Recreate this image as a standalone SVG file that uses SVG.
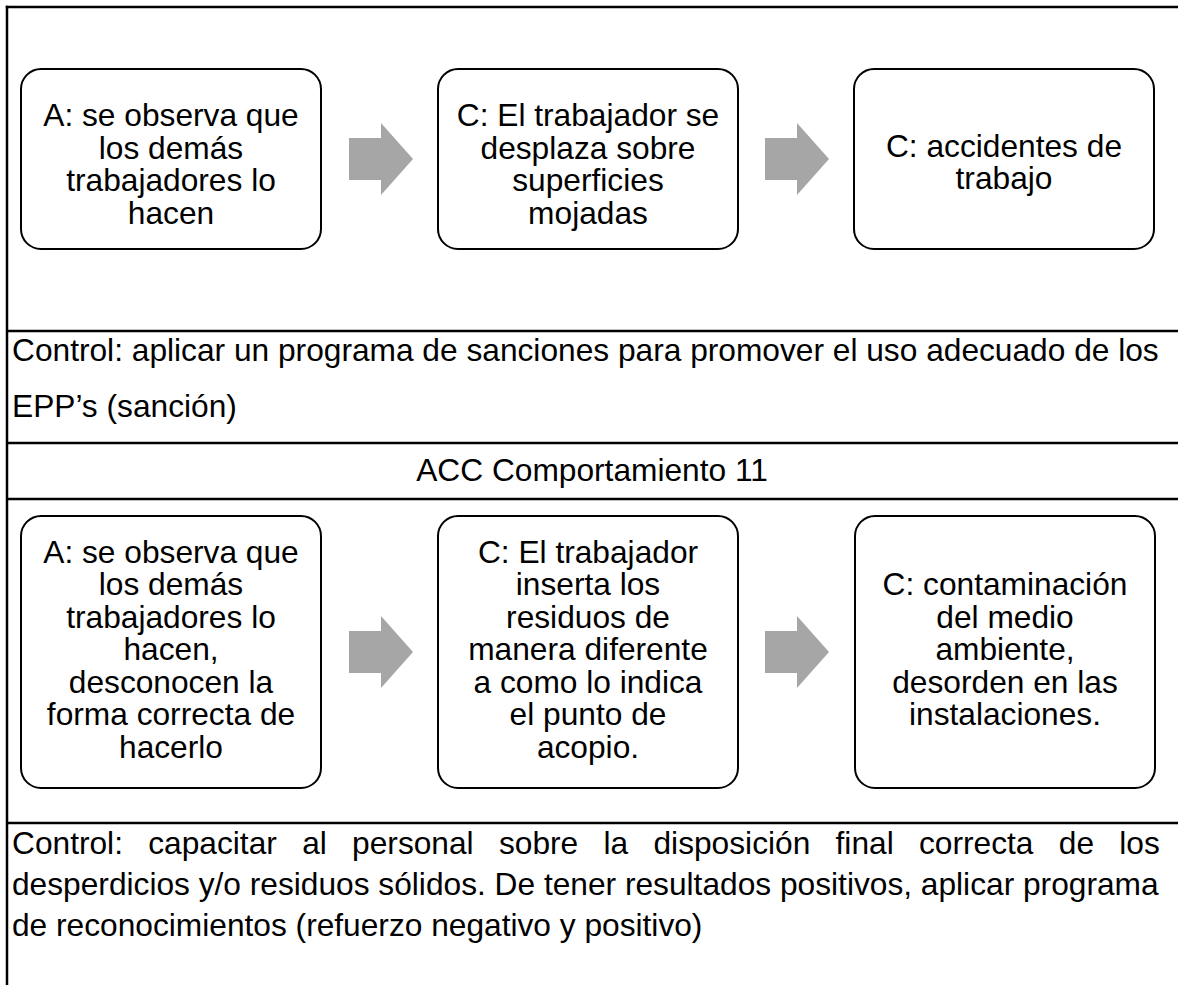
<svg xmlns="http://www.w3.org/2000/svg" width="1178" height="985" viewBox="0 0 1178 985">
<style>
.t{font-family:"Liberation Sans",Arial,sans-serif;font-size:31.7px;fill:#000}
.c{text-anchor:middle}
.box{fill:#fff;stroke:#000;stroke-width:2}
.arr{fill:#A6A6A6}
.ln{stroke:#000;stroke-width:2.5;fill:none}
</style>
<rect x="0" y="0" width="1178" height="985" fill="#fff"/>
<g id="table">
<line class="ln" x1="5.8" y1="7" x2="1178" y2="7"/>
<line class="ln" x1="7" y1="5.8" x2="7" y2="985"/>
<line class="ln" x1="7" y1="331" x2="1178" y2="331"/>
<line class="ln" x1="7" y1="443" x2="1178" y2="443"/>
<line class="ln" x1="7" y1="499" x2="1178" y2="499"/>
<line class="ln" x1="7" y1="823" x2="1178" y2="823"/>
</g>
<g id="connectors">
<polygon class="arr" points="349,138 381,138 381,123 413,159 381,195 381,180 349,180"/>
<polygon class="arr" points="765,138 797,138 797,123 829,159 797,195 797,180 765,180"/>
<polygon class="arr" points="349,631 381,631 381,616 413,652 381,688 381,673 349,673"/>
<polygon class="arr" points="765,631 797,631 797,616 829,652 797,688 797,673 765,673"/>
</g>
<g id="n1">
<rect class="box" x="21" y="69" width="300" height="180" rx="20"/>
<text class="t c"><tspan x="171" y="126">A: se observa que</tspan><tspan x="171" y="158.5">los demás</tspan><tspan x="171" y="191">trabajadores lo</tspan><tspan x="171" y="223.5">hacen</tspan></text>
</g>
<g id="n2">
<rect class="box" x="438" y="69" width="300" height="180" rx="20"/>
<text class="t c"><tspan x="588" y="126">C: El trabajador se</tspan><tspan x="588" y="158.5">desplaza sobre</tspan><tspan x="588" y="191">superficies</tspan><tspan x="588" y="223.5">mojadas</tspan></text>
</g>
<g id="n3">
<rect class="box" x="854" y="69" width="300" height="180" rx="20"/>
<text class="t c"><tspan x="1004" y="156.5">C: accidentes de</tspan><tspan x="1004" y="189">trabajo</tspan></text>
</g>
<g id="control1">
<text class="t"><tspan x="12" y="361">Control: aplicar un programa de sanciones para promover el uso adecuado de los</tspan><tspan x="12" y="417">EPP’s (sanción)</tspan></text>
</g>
<g id="header">
<text class="t c" x="592" y="481">ACC Comportamiento 11</text>
</g>
<g id="n4">
<rect class="box" x="21" y="516" width="300" height="272" rx="20"/>
<text class="t c"><tspan x="171" y="562.5">A: se observa que</tspan><tspan x="171" y="595">los demás</tspan><tspan x="171" y="627.5">trabajadores lo</tspan><tspan x="171" y="660">hacen,</tspan><tspan x="171" y="692.5">desconocen la</tspan><tspan x="171" y="725">forma correcta de</tspan><tspan x="171" y="757.5">hacerlo</tspan></text>
</g>
<g id="n5">
<rect class="box" x="438" y="516" width="300" height="272" rx="20"/>
<text class="t c"><tspan x="588" y="562.5">C: El trabajador</tspan><tspan x="588" y="595">inserta los</tspan><tspan x="588" y="627.5">residuos de</tspan><tspan x="588" y="660">manera diferente</tspan><tspan x="588" y="692.5">a como lo indica</tspan><tspan x="588" y="725">el punto de</tspan><tspan x="588" y="757.5">acopio.</tspan></text>
</g>
<g id="n6">
<rect class="box" x="855" y="516" width="300" height="272" rx="20"/>
<text class="t c"><tspan x="1005" y="595">C: contaminación</tspan><tspan x="1005" y="627.5">del medio</tspan><tspan x="1005" y="660">ambiente,</tspan><tspan x="1005" y="692.5">desorden en las</tspan><tspan x="1005" y="725">instalaciones.</tspan></text>
</g>
<g id="control2">
<text class="t" x="12" y="854" word-spacing="16.5">Control: capacitar al personal sobre la disposición final correcta de los</text>
<text class="t" x="12" y="895">desperdicios y/o residuos sólidos. De tener resultados positivos, aplicar programa</text>
<text class="t" x="12" y="936">de reconocimientos (refuerzo negativo y positivo)</text>
</g>
</svg>
